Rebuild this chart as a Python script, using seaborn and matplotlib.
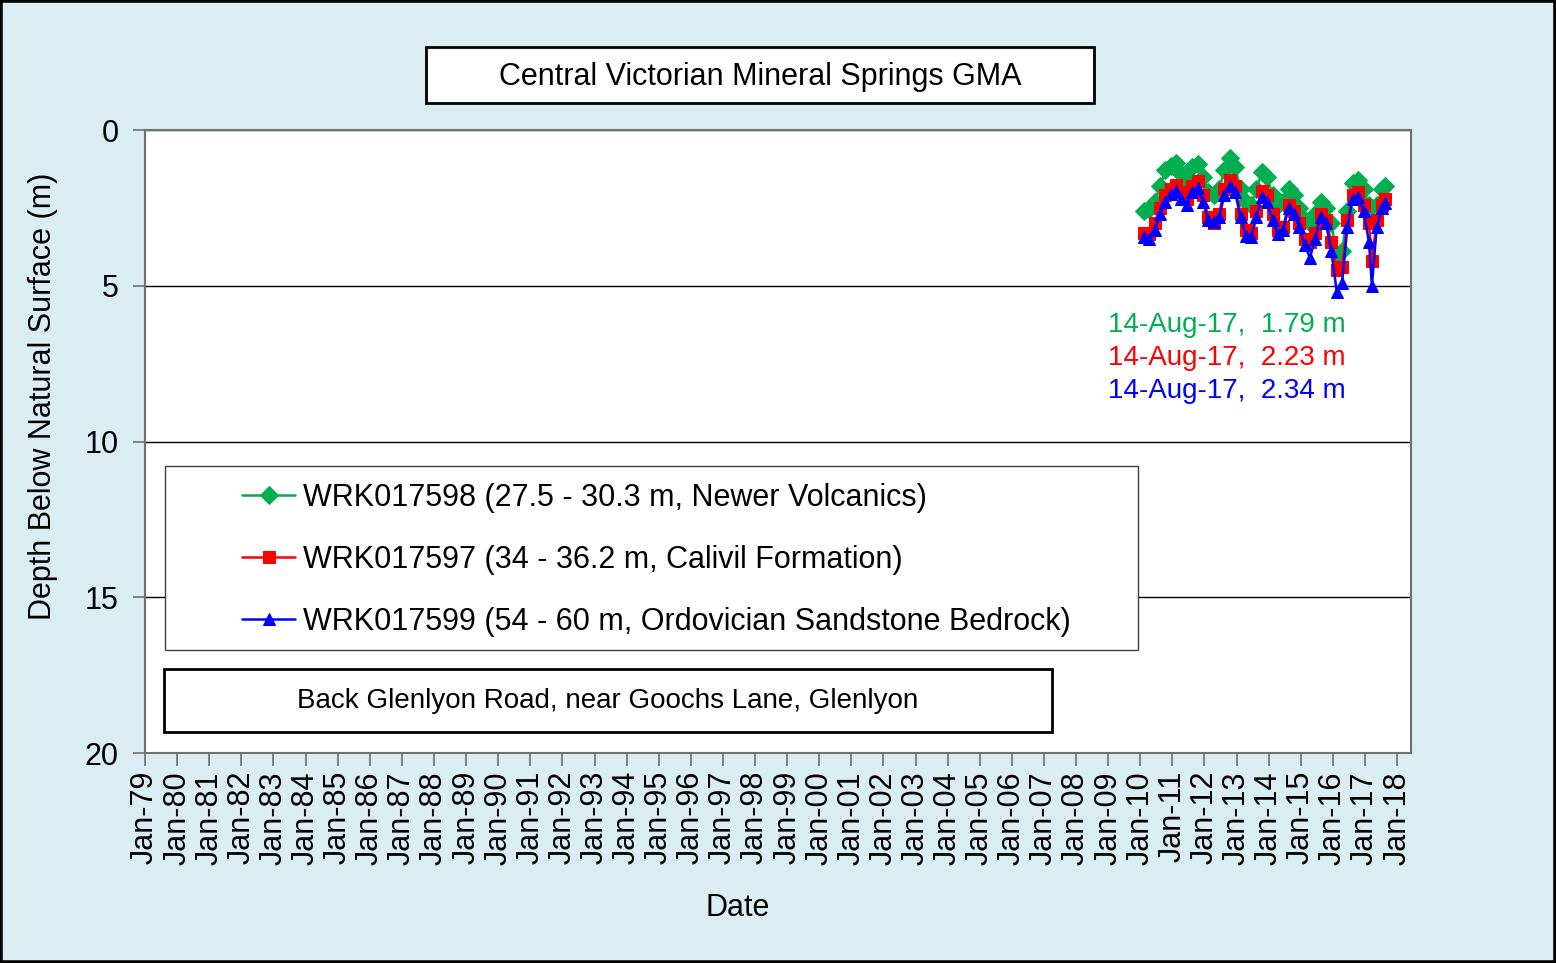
import numpy as np
import pandas as pd
import matplotlib
matplotlib.use("Agg")
import matplotlib.pyplot as plt
import matplotlib.dates as mdates
import seaborn as sns
from matplotlib.patches import Rectangle

# ---------------- data ----------------
dates = ["2010-02-15", "2010-04-15", "2010-06-15", "2010-08-15", "2010-10-15", "2010-12-15",
         "2011-02-15", "2011-04-15", "2011-06-15", "2011-08-15", "2011-10-15", "2011-12-15",
         "2012-02-15", "2012-04-15", "2012-06-15", "2012-08-15", "2012-10-15", "2012-12-15",
         "2013-02-15", "2013-04-15", "2013-06-15", "2013-08-15", "2013-10-15", "2013-12-15",
         "2014-02-15", "2014-04-15", "2014-06-15", "2014-08-15", "2014-10-15", "2014-12-15",
         "2015-02-15", "2015-04-15", "2015-06-15", "2015-08-15", "2015-10-15", "2015-12-15",
         "2016-02-15", "2016-04-15", "2016-06-15", "2016-08-15", "2016-10-15", "2016-12-15",
         "2017-02-15", "2017-03-20", "2017-05-15", "2017-07-15", "2017-08-14"]
green = [2.60, 2.55, 2.30, 1.80, 1.30, 1.15,
         1.05, 1.40, 1.60, 1.20, 1.10, 1.50,
         2.00, 2.10, 1.90, 1.30, 0.90, 1.20,
         1.90, 2.30, 2.40, 1.90, 1.35, 1.50,
         2.10, 2.40, 2.30, 1.90, 2.10, 2.50,
         2.90, 3.00, 2.70, 2.30, 2.50, 3.00,
         4.00, 3.90, 2.60, 1.70, 1.60, 1.90,
         2.40, 2.90, 2.40, 1.90, 1.79]
red = [3.30, 3.35, 3.00, 2.50, 2.10, 1.90,
       1.75, 2.00, 2.20, 1.80, 1.65, 2.10,
       2.80, 3.00, 2.70, 1.90, 1.60, 1.80,
       2.70, 3.20, 3.30, 2.60, 1.95, 2.10,
       2.70, 3.20, 3.10, 2.40, 2.60, 3.00,
       3.50, 3.60, 3.30, 2.70, 2.90, 3.60,
       4.50, 4.40, 2.90, 2.10, 2.00, 2.40,
       3.00, 4.20, 2.90, 2.40, 2.23]
blue = [3.45, 3.50, 3.20, 2.70, 2.30, 2.05,
        1.95, 2.20, 2.40, 2.00, 1.85, 2.30,
        2.90, 2.95, 2.80, 2.10, 1.80, 2.00,
        2.80, 3.40, 3.45, 2.80, 2.15, 2.30,
        2.90, 3.35, 3.20, 2.50, 2.70, 3.10,
        3.70, 4.10, 3.50, 2.80, 3.00, 3.90,
        5.20, 4.90, 3.10, 2.20, 2.15, 2.60,
        3.60, 5.00, 3.10, 2.50, 2.34]

series_labels = ["WRK017598 (27.5 - 30.3 m, Newer Volcanics)",
                 "WRK017597 (34 - 36.2 m, Calivil Formation)",
                 "WRK017599 (54 - 60 m, Ordovician Sandstone Bedrock)"]
series_colors = ["#00B050", "#FF0000", "#0000FF"]
series_markers = ["D", "s", "^"]
latest_labels = ["14-Aug-17,  1.79 m", "14-Aug-17,  2.23 m", "14-Aug-17,  2.34 m"]
title = "Central Victorian Mineral Springs GMA"
location = "Back Glenlyon Road, near Goochs Lane, Glenlyon"
y_ticks = [0, 5, 10, 15, 20]

# ---------------- style ----------------
sns.set_theme(style="white")
plt.rcParams["font.family"] = ["Liberation Sans", "DejaVu Sans"]
plt.rcParams["text.color"] = "black"
plt.rcParams["axes.labelcolor"] = "black"
plt.rcParams["xtick.color"] = "black"
plt.rcParams["ytick.color"] = "black"

W, H = 1556, 963
BG = "#DAEDF3"
FS = 22
fig = plt.figure(figsize=(W / 100, H / 100), dpi=100, facecolor=BG)
ax = fig.add_axes([145 / W, 1 - 753 / H, (1411 - 145) / W, (753 - 130) / H])
ax.set_facecolor("white")

x = pd.to_datetime(dates)
for vals, lab, col, mk in zip([green, red, blue], series_labels, series_colors, series_markers):
    ms = 9.5 if mk == "D" else 8.5
    sns.lineplot(x=x, y=vals, ax=ax, color=col, marker=mk, markersize=ms,
                 markeredgecolor=col, markerfacecolor=col, linewidth=1.8,
                 label=lab, legend=False)

ax.set_xlim(pd.Timestamp("1979-01-01"), pd.Timestamp("2018-06-08"))
ax.set_ylim(20, 0)
ax.set_yticks(y_ticks)
ax.xaxis.set_major_locator(mdates.YearLocator(1, month=1, day=1))
ax.xaxis.set_major_formatter(mdates.DateFormatter("%b-%y"))
ax.yaxis.grid(True, color="black", linewidth=1.0)
ax.xaxis.grid(False)
ax.set_axisbelow(True)
for s in ax.spines.values():
    s.set_color("#707070")
    s.set_linewidth(1.5)
ax.tick_params(axis="x", rotation=90, length=9, width=1.2, color="#707070",
               labelsize=FS, labelcolor="black", pad=4, bottom=True)
ax.tick_params(axis="y", length=9, width=1.2, color="#707070",
               labelsize=FS, labelcolor="black", pad=10, left=True)
ax.set_xlabel("Date", fontsize=FS, color="black")
ax.set_ylabel("Depth Below Natural Surface (m)", fontsize=FS, color="black")
ax.xaxis.set_label_coords((738 - 145) / 1266, (753 - 908) / 623)
ax.xaxis.label.set_va("center")
ax.yaxis.set_label_coords((43 - 145) / 1266, (753 - 396) / 623)
ax.yaxis.label.set_va("center")

# legend (figure-level so it sits above its drawn frame)
lh, ll = ax.get_legend_handles_labels()
fig.add_artist(Rectangle((165 / W, 1 - 650 / H), (1138 - 165) / W, (650 - 466) / H,
                         transform=fig.transFigure, facecolor="white", edgecolor="#404040",
                         linewidth=1.0, zorder=3))
leg = fig.legend(lh, ll, loc="upper left", bbox_to_anchor=(242 / W, 1 - 483 / H),
                 bbox_transform=fig.transFigure, frameon=False, fontsize=FS,
                 handlelength=1.75, handletextpad=0.25, labelspacing=1.05,
                 borderpad=0, borderaxespad=0, labelcolor="black")
leg.set_zorder(5)

# title box
fig.add_artist(Rectangle((426 / W, 1 - 103 / H), (1094 - 426) / W, (103 - 47) / H,
                         transform=fig.transFigure, facecolor="white", edgecolor="black",
                         linewidth=2.0, zorder=3))
fig.text(760 / W, 1 - 77 / H, title, ha="center", va="center", fontsize=FS,
         color="black", zorder=4)

# location box
fig.add_artist(Rectangle((164 / W, 1 - 732 / H), (1052 - 164) / W, (732 - 669) / H,
                         transform=fig.transFigure, facecolor="white", edgecolor="black",
                         linewidth=2.0, zorder=3))
fig.text(608 / W, 1 - 701 / H, location, ha="center", va="center", fontsize=20,
         color="black", zorder=4)

# latest value annotations
for i, (txt, col) in enumerate(zip(latest_labels, series_colors)):
    fig.text(1108 / W, 1 - (325 + 33 * i) / H, txt, ha="left", va="center",
             fontsize=20, color=col, zorder=4)

# figure border
fig.add_artist(Rectangle((0, 0), 1, 1, transform=fig.transFigure, fill=False,
                         edgecolor="black", linewidth=4, zorder=10))

fig.savefig("out.png", dpi=100, facecolor=BG)
